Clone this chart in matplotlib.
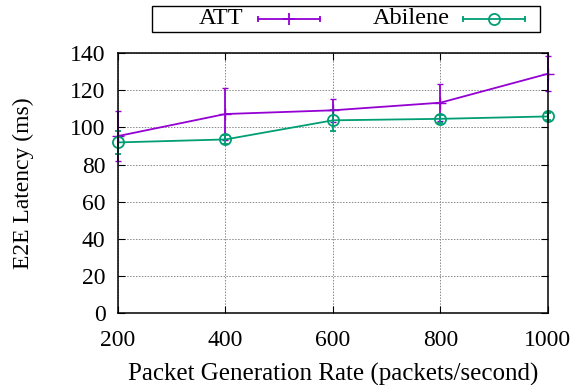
import numpy as np
import matplotlib.pyplot as plt
from matplotlib.lines import Line2D
from matplotlib.patches import Rectangle

plt.rcParams['font.family'] = ['Liberation Serif', 'DejaVu Serif']

rates = [200, 400, 600, 800, 1000]
att_mean = [95.3, 107.2, 109.2, 113.3, 128.9]
att_err = [13.5, 14.0, 6.2, 9.9, 9.5]
abilene_mean = [91.9, 93.5, 103.8, 104.6, 105.9]
abilene_err = [6.3, 2.5, 5.6, 2.0, 2.0]

ATT_COLOR = '#9400d3'
ABI_COLOR = '#009e73'

fig = plt.figure(figsize=(5.78, 3.85), dpi=100)
ax = fig.add_axes([0.204, 0.187, 0.744, 0.675])

ax.errorbar(rates, att_mean, yerr=att_err, color=ATT_COLOR, marker='+', markersize=9,
            linewidth=1.3, elinewidth=1.3, capsize=2, label='ATT', clip_on=False)
ax.errorbar(rates, abilene_mean, yerr=abilene_err, color=ABI_COLOR, marker='o', markersize=8,
            markerfacecolor='none', markeredgewidth=1.3, linewidth=1.3, elinewidth=1.3,
            capsize=2, label='Abilene', clip_on=False)

ax.set_xlim(200, 1000)
ax.set_ylim(0, 140)
ax.set_xticks(rates)
ax.set_yticks(np.arange(0, 141, 20))
ax.grid(True, linestyle=(0, (1.5, 1.5)), color='#888888', linewidth=0.7)
ax.tick_params(direction='in', top=True, right=True, labelsize=17, length=5)
ax.tick_params(axis='y', pad=9)
ax.tick_params(axis='x', pad=12)
for s in ax.spines.values():
    s.set_linewidth(1.1)

ax.set_xlabel('Packet Generation Rate (packets/second)', fontsize=18, labelpad=9)
ax.set_ylabel('E2E Latency (ms)', fontsize=17, labelpad=26)

# gnuplot-style key above the plot: text right-justified, sample to its right
W, H = 578.0, 385.0
fig.patches.append(Rectangle((152 / W, 1 - 32 / H), (540 - 152) / W, 26 / H,
                             transform=fig.transFigure, fill=False,
                             edgecolor='black', linewidth=1.0))
key_y = 1 - 19 / H
entries = [('ATT', ATT_COLOR, '+', 243, 258),
           ('Abilene', ABI_COLOR, 'o', 450, 463)]
for label, color, marker, text_right, x0 in entries:
    fig.text(text_right / W, key_y, label, ha='right', va='center', fontsize=17.5)
    x1 = x0 + 62
    fig.lines.append(Line2D([x0 / W, x1 / W], [key_y, key_y], transform=fig.transFigure,
                            color=color, linewidth=1.3))
    fig.lines.append(Line2D([x0 / W, x1 / W], [key_y, key_y], transform=fig.transFigure,
                            color=color, linestyle='none', marker='|', markersize=4,
                            markeredgewidth=1.3))
    fig.lines.append(Line2D([(x0 + x1) / 2 / W], [key_y], transform=fig.transFigure,
                            color=color, marker=marker, markersize=9 if marker == '+' else 8,
                            markerfacecolor='none', markeredgewidth=1.3))

fig.savefig('out.png', dpi=100)
